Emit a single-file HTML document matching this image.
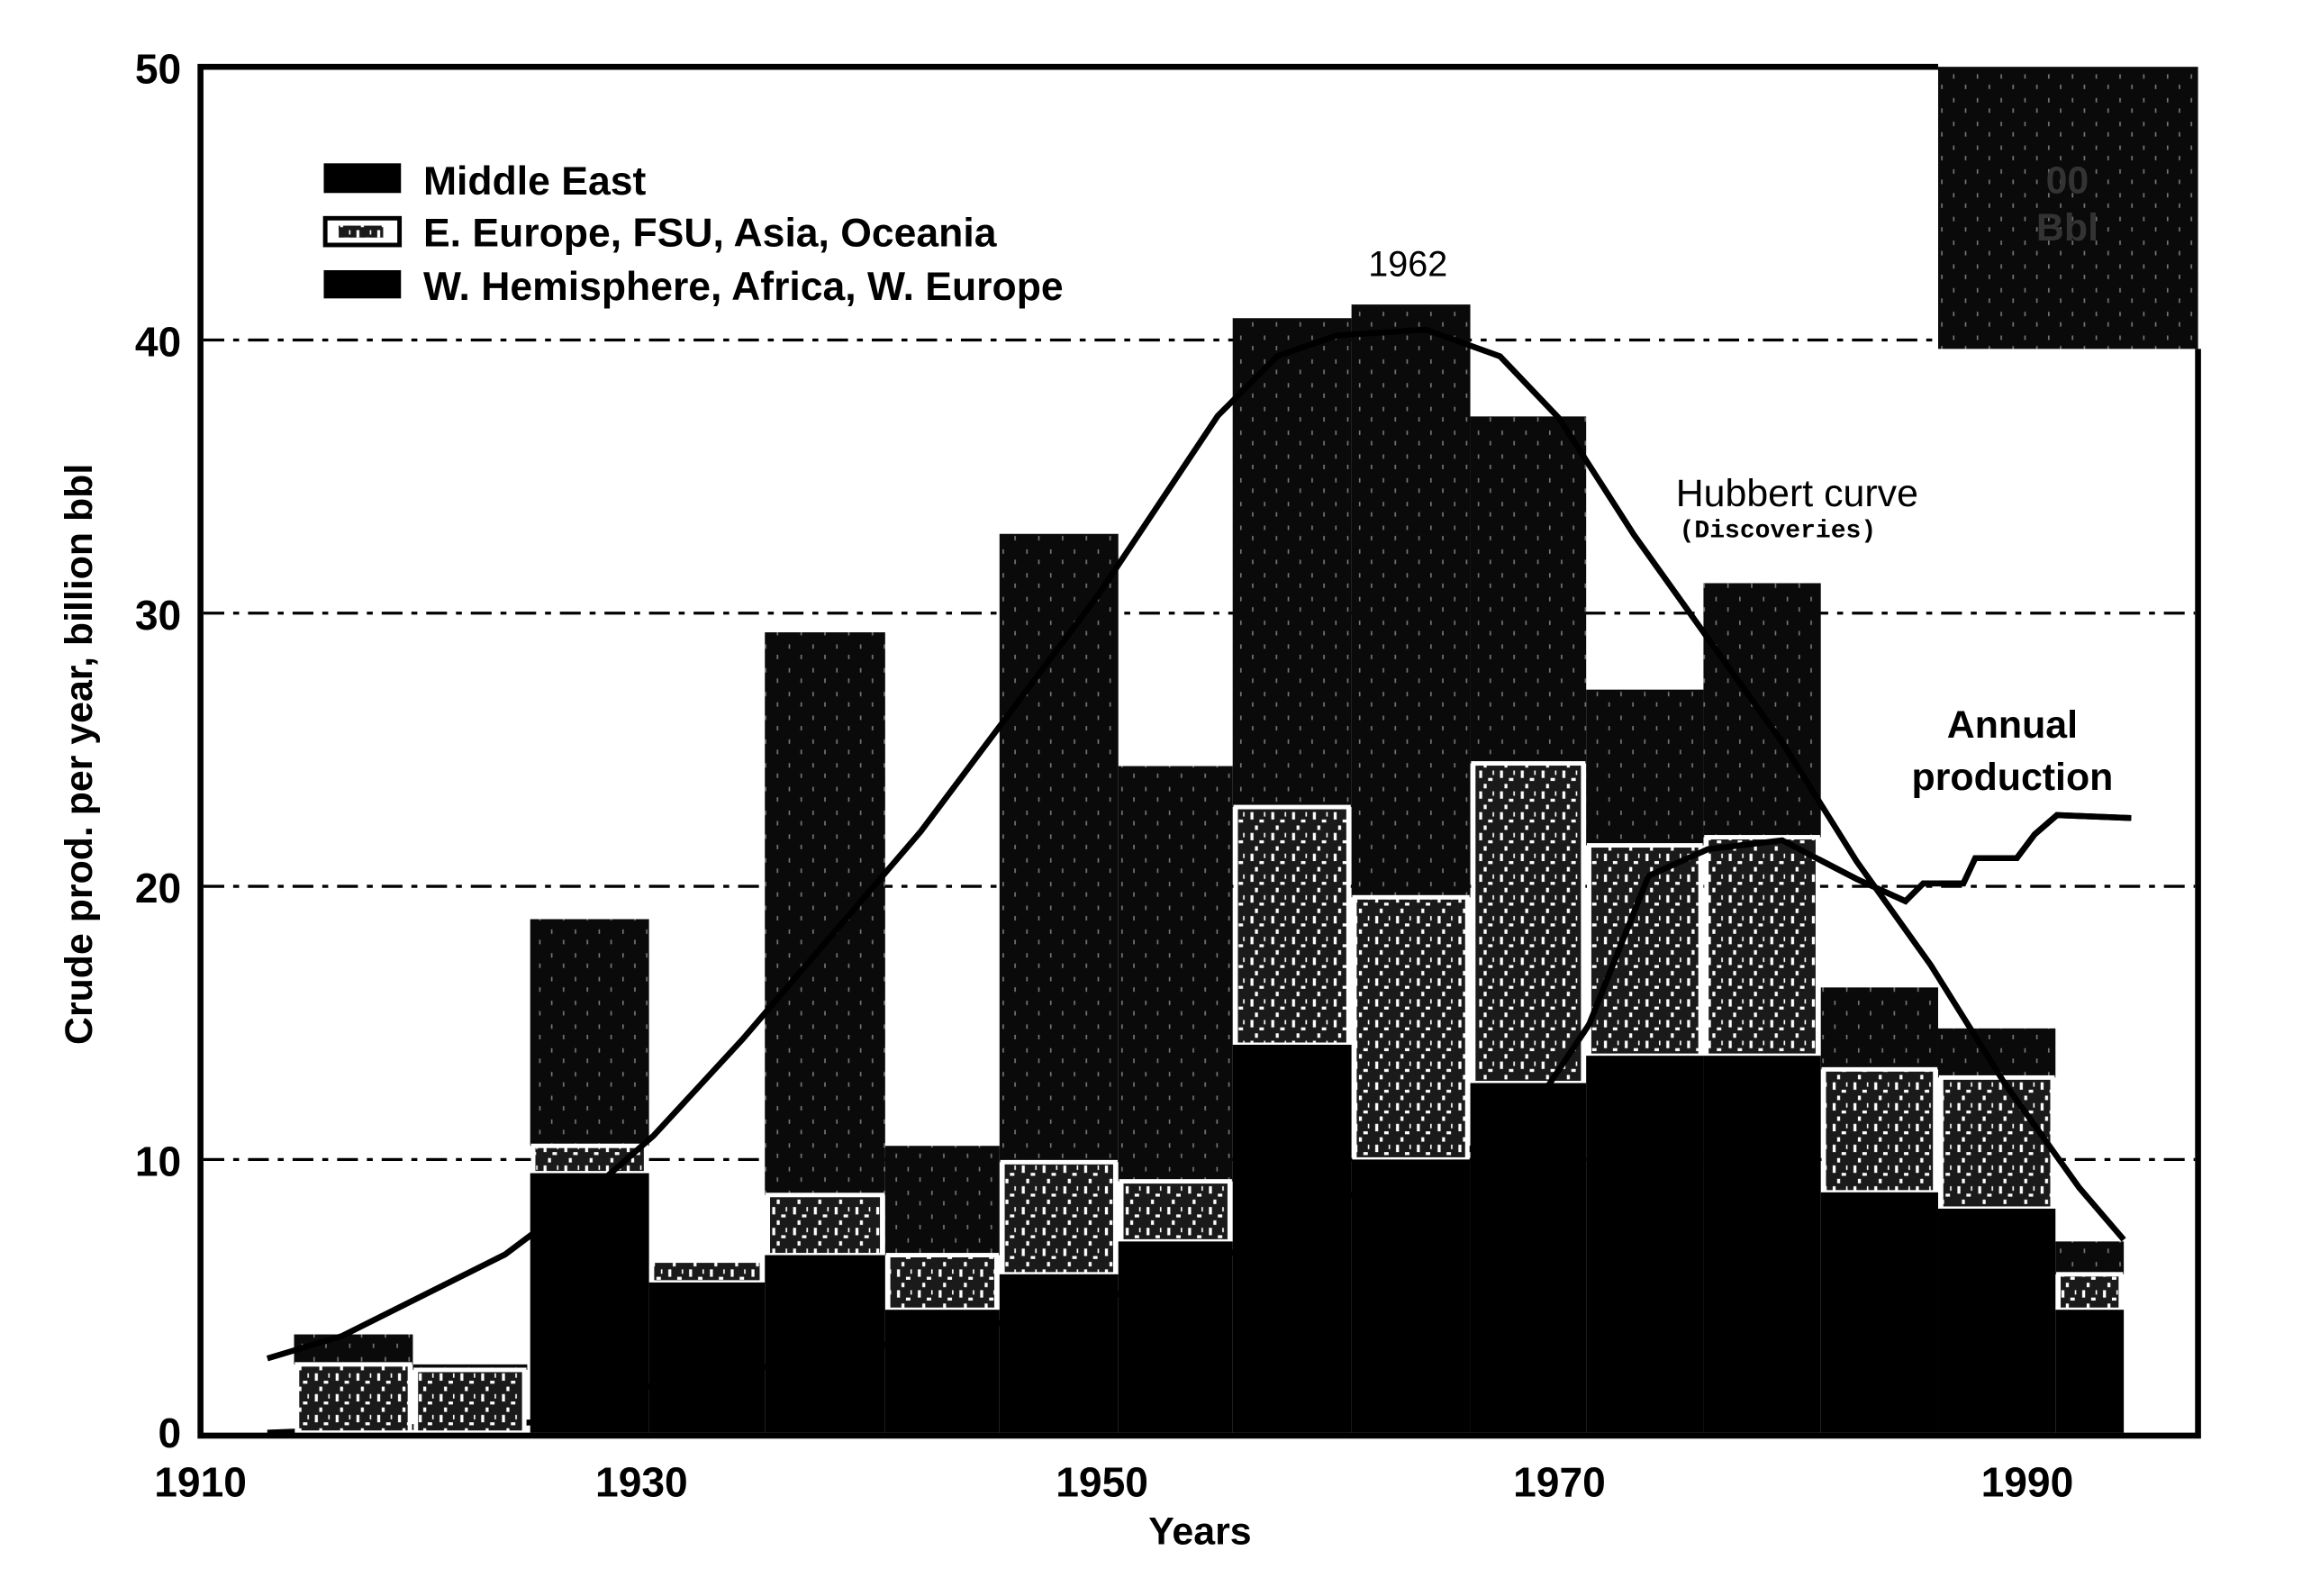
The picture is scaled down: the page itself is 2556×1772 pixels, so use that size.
<!DOCTYPE html>
<html><head><meta charset="utf-8"><style>
html,body{margin:0;padding:0;background:#fff;}
svg{display:block;}
text{font-family:"Liberation Sans",sans-serif;font-weight:bold;fill:#000;}
</style></head><body>
<svg width="2556" height="1772" viewBox="0 0 1550 1075" preserveAspectRatio="none" xmlns="http://www.w3.org/2000/svg">
<defs>
<pattern id="ee" width="14" height="14" patternUnits="userSpaceOnUse">
<rect width="14" height="14" fill="#1a1a1a"/>
<rect x="2" y="1" width="2" height="5" fill="#fff"/>
<rect x="8" y="6" width="3" height="2" fill="#fff"/>
<rect x="5" y="10" width="2" height="3" fill="#fff"/>
<rect x="11" y="1" width="1" height="3" fill="#fff"/>
</pattern>
<pattern id="me" width="16" height="16" patternUnits="userSpaceOnUse">
<rect width="16" height="16" fill="#0a0a0a"/>
<rect x="3" y="2" width="1" height="3" fill="#777"/>
<rect x="11" y="9" width="1" height="3" fill="#777"/>
</pattern>
</defs>
<rect width="1550" height="1075" fill="#fff"/>
<g stroke="#000" stroke-width="2" stroke-dasharray="14,6,4,6">
<line x1="137" y1="781" x2="1478" y2="781"/>
<line x1="137" y1="597" x2="1478" y2="597"/>
<line x1="137" y1="413" x2="1478" y2="413"/>
<line x1="137" y1="229" x2="1305" y2="229"/>
</g>
<!-- production (under bars) -->
<polyline fill="none" stroke="#000" stroke-width="4" points="180,965 360,958 430,935 520,920 600,905 680,890 760,870 840,840 920,800 1000,770 1040,735 1070,690 1110,590 1150,572 1200,566 1250,592 1283,607 1295,595 1322,595 1330,578 1358,578 1370,562 1385,549 1435,551"/>
<g>
<rect x="198" y="898.8" width="80" height="20.2" fill="url(#me)"/>
<rect x="200" y="919" width="76" height="46" fill="url(#ee)" stroke="#fff" stroke-width="3"/>
<rect x="278" y="919" width="77" height="3.7" fill="url(#me)"/>
<rect x="280" y="922.7" width="73" height="42.3" fill="url(#ee)" stroke="#fff" stroke-width="3"/>

<rect x="357" y="619.1" width="80" height="152.7" fill="url(#me)"/>
<rect x="359" y="771.8" width="76" height="18.4" fill="url(#ee)" stroke="#fff" stroke-width="3"/>
<rect x="357" y="790.2" width="80" height="174.8" fill="#000"/>

<rect x="439" y="849.1" width="74" height="14.7" fill="url(#ee)" stroke="#fff" stroke-width="3"/>
<rect x="437" y="863.8" width="78" height="101.2" fill="#000"/>

<rect x="515" y="425.9" width="81" height="379" fill="url(#me)"/>
<rect x="517" y="804.9" width="77" height="40.5" fill="url(#ee)" stroke="#fff" stroke-width="3"/>
<rect x="515" y="845.4" width="81" height="119.6" fill="#000"/>

<rect x="596" y="771.8" width="77" height="73.6" fill="url(#me)"/>
<rect x="598" y="845.4" width="73" height="36.8" fill="url(#ee)" stroke="#fff" stroke-width="3"/>
<rect x="596" y="882.2" width="77" height="82.8" fill="#000"/>

<rect x="673" y="359.6" width="80" height="423.2" fill="url(#me)"/>
<rect x="675" y="782.8" width="76" height="75.5" fill="url(#ee)" stroke="#fff" stroke-width="3"/>
<rect x="673" y="858.3" width="80" height="106.7" fill="#000"/>

<rect x="753" y="516" width="77" height="279.7" fill="url(#me)"/>
<rect x="755" y="795.7" width="73" height="40.5" fill="url(#ee)" stroke="#fff" stroke-width="3"/>
<rect x="753" y="836.2" width="77" height="128.8" fill="#000"/>

<rect x="830" y="214.3" width="80" height="329.3" fill="url(#me)"/>
<rect x="832" y="543.6" width="76" height="160.1" fill="url(#ee)" stroke="#fff" stroke-width="3"/>
<rect x="830" y="703.7" width="80" height="261.3" fill="#000"/>

<rect x="910" y="205.1" width="80" height="399.3" fill="url(#me)"/>
<rect x="912" y="604.4" width="76" height="176.6" fill="url(#ee)" stroke="#fff" stroke-width="3"/>
<rect x="910" y="781" width="80" height="184" fill="#000"/>

<rect x="990" y="280.5" width="78" height="233.7" fill="url(#me)"/>
<rect x="992" y="514.2" width="74" height="215.3" fill="url(#ee)" stroke="#fff" stroke-width="3"/>
<rect x="990" y="729.5" width="78" height="235.5" fill="#000"/>

<rect x="1068" y="464.5" width="79" height="104.9" fill="url(#me)"/>
<rect x="1070" y="569.4" width="75" height="141.7" fill="url(#ee)" stroke="#fff" stroke-width="3"/>
<rect x="1068" y="711.1" width="79" height="253.9" fill="#000"/>

<rect x="1147" y="392.8" width="79" height="171.1" fill="url(#me)"/>
<rect x="1149" y="563.9" width="75" height="147.2" fill="url(#ee)" stroke="#fff" stroke-width="3"/>
<rect x="1147" y="711.1" width="79" height="253.9" fill="#000"/>

<rect x="1226" y="665.1" width="79" height="55.2" fill="url(#me)"/>
<rect x="1228" y="720.3" width="75" height="82.8" fill="url(#ee)" stroke="#fff" stroke-width="3"/>
<rect x="1226" y="803.1" width="79" height="161.9" fill="#000"/>

<rect x="1305" y="692.7" width="79" height="33.1" fill="url(#me)"/>
<rect x="1307" y="725.8" width="75" height="88.3" fill="url(#ee)" stroke="#fff" stroke-width="3"/>
<rect x="1305" y="814.1" width="79" height="150.9" fill="#000"/>

<rect x="1384" y="836.2" width="46" height="22.1" fill="url(#me)"/>
<rect x="1386" y="858.3" width="42" height="23.9" fill="url(#ee)" stroke="#fff" stroke-width="3"/>
<rect x="1384" y="882.2" width="46" height="82.8" fill="#000"/>
</g>
<!-- production visible segments over bars -->
<polyline fill="none" stroke="#000" stroke-width="4" points="1040,735 1070,690 1110,590 1150,572 1200,566 1250,592 1283,607 1295,595 1322,595 1330,578 1358,578 1370,562 1385,549 1435,551"/>
<!-- hubbert -->
<polyline fill="none" stroke="#000" stroke-width="4" points="180,915 230,900 280,875 340,845 400,800 440,765 500,700 560,630 620,560 680,480 740,400 780,340 820,280 860,240 900,226 960,222 1010,240 1050,282 1100,360 1150,430 1200,500 1250,580 1300,650 1350,730 1400,800 1430,835"/>
<rect x="1305" y="45" width="175" height="190" fill="url(#me)"/>
<text x="1392" y="130" font-size="26" text-anchor="middle" style="fill:#333">00</text>
<text x="1392" y="162" font-size="26" text-anchor="middle" style="fill:#333">Bbl</text>
<polyline fill="none" stroke="#000" stroke-width="4" points="1480,235 1480,967 135,967 135,45 1305,45"/>
<g font-size="28" text-anchor="end">
<text x="122" y="975">0</text>
<text x="122" y="792">10</text>
<text x="122" y="608">20</text>
<text x="122" y="424">30</text>
<text x="122" y="240">40</text>
<text x="122" y="56">50</text>
</g>
<g font-size="28" text-anchor="middle">
<text x="135" y="1008">1910</text>
<text x="432" y="1008">1930</text>
<text x="742" y="1008">1950</text>
<text x="1050" y="1008">1970</text>
<text x="1365" y="1008">1990</text>
<text x="808" y="1040" font-size="26">Years</text>
</g>
<text transform="translate(62,508) rotate(-90)" font-size="26" text-anchor="middle">Crude prod. per year, billion bbl</text>
<rect x="218" y="110" width="52" height="20" fill="#000"/>
<rect x="219" y="147" width="50" height="18" fill="#fff" stroke="#000" stroke-width="3"/>
<rect x="228" y="152" width="30" height="8" fill="url(#ee)"/>
<rect x="218" y="182" width="52" height="19" fill="#000"/>
<g font-size="27">
<text x="285" y="131">Middle East</text>
<text x="285" y="166">E. Europe, FSU, Asia, Oceania</text>
<text x="285" y="202">W. Hemisphere, Africa, W. Europe</text>
</g>
<text x="948" y="186" font-size="24" text-anchor="middle" style="font-weight:normal">1962</text>
<text x="1210" y="341" font-size="26" text-anchor="middle" style="font-weight:normal">Hubbert curve</text>
<text x="1197" y="362" font-size="17" text-anchor="middle" style="font-family:'Liberation Mono',monospace">(Discoveries)</text>
<text x="1355" y="497" font-size="26" text-anchor="middle">Annual</text>
<text x="1355" y="532" font-size="26" text-anchor="middle">production</text>
</svg>
</body></html>
